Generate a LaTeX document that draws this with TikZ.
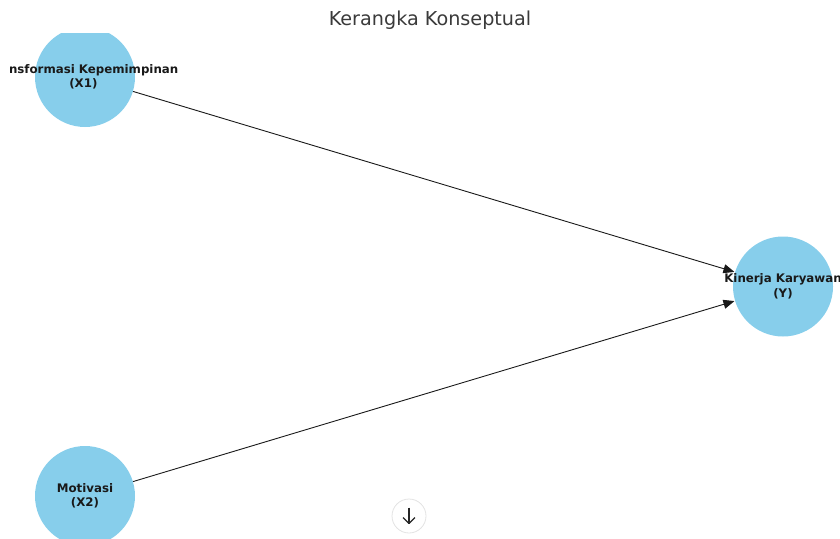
\documentclass[tikz,border=0pt]{standalone}
\usepackage{fontspec}
\setmainfont{DejaVu Sans}
\usetikzlibrary{arrows.meta}
\definecolor{skyblue}{HTML}{87CEEB}
\definecolor{titlegray}{HTML}{3A3A3A}
\definecolor{btnborder}{HTML}{E3E3E3}
\begin{document}
\begin{tikzpicture}[x=1pt,y=-1pt,
  var/.style={circle,fill=skyblue,draw=none,minimum size=100pt,inner sep=0pt},
  varlabel/.style={align=center,inner sep=0pt,font=\fontsize{11.8}{14.5}\selectfont\bfseries,text=black!90},
  link/.style={-{Triangle[length=11pt,width=9pt]},line width=0.9pt,black!90,shorten >=0.5pt},
  title/.style={font=\fontsize{19.2}{22}\selectfont,text=titlegray}]
\useasboundingbox (0,0) rectangle (840,538);
\clip (0,0) rectangle (840,538);
\node[title] (t) at (430,20) {Kerangka Konseptual};
\begin{scope}
\clip (0,33) rectangle (840,538);
\node[var] (x1) at (85,77) {};
\node[var] (x2) at (85,496) {};
\node[var] (y) at (783,286.5) {};
\end{scope}
\draw[link] (x1) -- (y);
\draw[link] (x2) -- (y);
\begin{scope}
\clip (9.5,0) rectangle (840,538);
\node[varlabel] (x1l) at (83.4,77) {Transformasi Kepemimpinan\\(X1)};
\end{scope}
\node[varlabel] (x2l) at (x2.center) {Motivasi\\(X2)};
\node[varlabel] (yl) at (y.center) {Kinerja Karyawan\\(Y)};
\node[circle,draw=btnborder,line width=0.8pt,fill=white,minimum size=34pt,inner sep=0pt] (btn) at (409,516) {};
\coordinate (btop) at (409,507.5);
\coordinate (bbot) at (409,523.5);
\coordinate (bl) at (403,517.5);
\coordinate (br) at (415,517.5);
\draw[line width=1.3pt,black!85] (btop) -- (bbot);
\draw[line width=1.3pt,black!85,line join=round] (bl) -- (bbot) -- (br);
\end{tikzpicture}
\end{document}
